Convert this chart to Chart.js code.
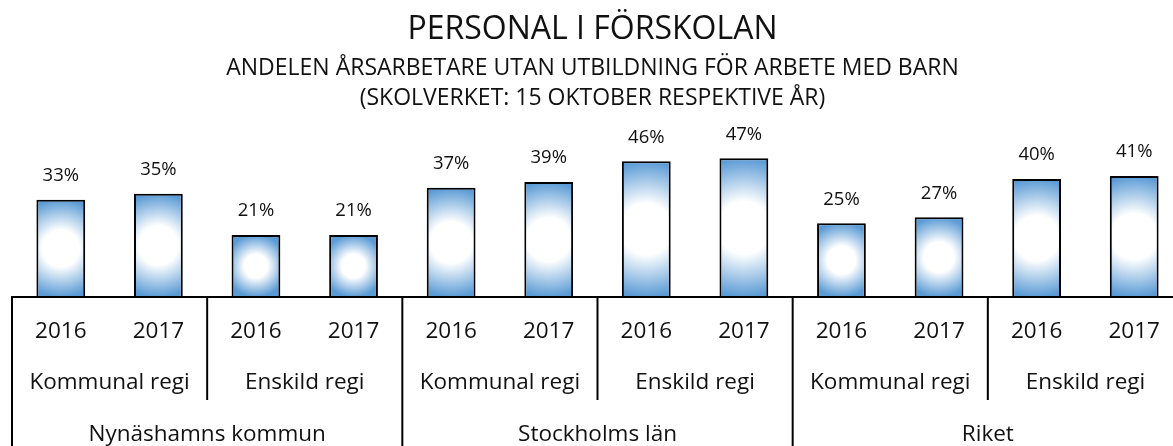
<!DOCTYPE html>
<html lang="sv">
  <head>
    <meta charset="UTF-8" />
    <meta name="viewport" content="width=device-width, initial-scale=1.0" />
    <title>Personal i förskolan</title>
  </head>
  <style>
    * {
      margin: 0;
      padding: 0;
    }
    body {
      background: white;
      overflow: hidden;
    }
    .chartBox {
      width: 1185px;
      height: 446px;
    }
  </style>
  <body>
    <div class="chartBox">
      <canvas id="myChart"></canvas>
    </div>

    <script src="https://cdn.jsdelivr.net/npm/chart.js"></script>

    <script>
      // data block
      const titleText = "PERSONAL I FÖRSKOLAN";
      const subtitleLines = [
        "ANDELEN ÅRSARBETARE UTAN UTBILDNING FÖR ARBETE MED BARN",
        "(SKOLVERKET: 15 OKTOBER RESPEKTIVE ÅR)"
      ];
      const years = [
        "2016", "2017", "2016", "2017", "2016", "2017",
        "2016", "2017", "2016", "2017", "2016", "2017"
      ];
      const regi = [
        "Kommunal regi", "Enskild regi",
        "Kommunal regi", "Enskild regi",
        "Kommunal regi", "Enskild regi"
      ];
      const regions = ["Nynäshamns kommun", "Stockholms län", "Riket"];
      const shares = [33, 35, 21, 21, 37, 39, 46, 47, 25, 27, 40, 41];

      const FONT = "'Open Sans', 'Noto Sans', sans-serif";
      const TEXT = "#111";
      const BLUE = "#5b9bd5";

      // radial fill, white in the middle of each bar
      function barFill(context) {
        const chart = context.chart;
        const { chartArea, scales } = chart;
        if (!chartArea || context.type !== "data") return BLUE;
        const x = scales.x.getPixelForValue(context.dataIndex);
        const top = scales.y.getPixelForValue(context.raw);
        const bottom = scales.y.getPixelForValue(0);
        const mid = (top + bottom) / 2;
        const halfW = ((chartArea.right - chartArea.left) / years.length) * 0.25;
        const r = Math.max((bottom - top) / 2, halfW * 1.2);
        const g = chart.ctx.createRadialGradient(x, mid, 0, x, mid, r);
        g.addColorStop(0, "#ffffff");
        g.addColorStop(0.38, "#ffffff");
        g.addColorStop(1, BLUE);
        return g;
      }

      const data = {
        labels: years,
        datasets: [
          {
            data: shares,
            backgroundColor: barFill,
            borderColor: "#000",
            borderWidth: 2,
            categoryPercentage: 1,
            barPercentage: 0.5
          }
        ]
      };

      // titles
      const titles = {
        id: "titles",
        afterDraw(chart) {
          const { ctx, width } = chart;
          ctx.save();
          ctx.fillStyle = TEXT;
          ctx.textAlign = "center";
          ctx.textBaseline = "middle";
          ctx.font = "32px " + FONT;
          ctx.fillText(titleText, width / 2, 30);
          ctx.font = "23px " + FONT;
          subtitleLines.forEach((line, i) => {
            ctx.fillText(line, width / 2, 68 + i * 30);
          });
          ctx.restore();
        }
      };

      // value labels above bars
      const barLabels = {
        id: "barLabels",
        afterDatasetsDraw(chart) {
          const { ctx } = chart;
          const meta = chart.getDatasetMeta(0);
          ctx.save();
          ctx.font = "18.5px " + FONT;
          ctx.fillStyle = TEXT;
          ctx.textAlign = "center";
          ctx.textBaseline = "middle";
          meta.data.forEach((bar, i) => {
            ctx.fillText(shares[i] + "%", bar.x, bar.y - 24);
          });
          ctx.restore();
        }
      };

      // three-level category axis with separators
      const groupAxis = {
        id: "groupAxis",
        afterDraw(chart) {
          const { ctx, chartArea, scales, width, height } = chart;
          const x = scales.x;
          const step = (chartArea.right - chartArea.left) / years.length;
          const base = chartArea.bottom;
          const edge = (i) => x.getPixelForValue(i) - step / 2;

          ctx.save();
          ctx.strokeStyle = "#000";
          ctx.lineWidth = 2;
          ctx.beginPath();
          ctx.moveTo(chartArea.left - 1, base);
          ctx.lineTo(width, base);
          for (let i = 0; i <= years.length; i += 2) {
            const px = edge(i);
            ctx.moveTo(px, base);
            ctx.lineTo(px, i % 4 === 0 ? height : 400);
          }
          ctx.stroke();

          ctx.fillStyle = TEXT;
          ctx.textAlign = "center";
          ctx.textBaseline = "middle";
          ctx.font = "22.5px " + FONT;
          years.forEach((y, i) => {
            ctx.fillText(y, x.getPixelForValue(i), 332);
          });
          regi.forEach((r, i) => {
            ctx.fillText(r, edge(i * 2 + 1), 383);
          });
          regions.forEach((r, i) => {
            ctx.fillText(r, edge(i * 4 + 2), 435);
          });
          ctx.restore();
        }
      };

      // config block
      const config = {
        type: "bar",
        data,
        options: {
          responsive: true,
          maintainAspectRatio: false,
          animation: false,
          layout: {
            padding: { top: 120, bottom: 149, left: 12, right: 2 }
          },
          scales: {
            x: { display: false },
            y: { display: false, min: 0, max: 60 }
          },
          plugins: {
            legend: { display: false },
            tooltip: { enabled: false }
          }
        },
        plugins: [titles, barLabels, groupAxis]
      };

      // init render block
      const myChart = new Chart(document.getElementById("myChart"), config);
    </script>
  </body>
</html>
